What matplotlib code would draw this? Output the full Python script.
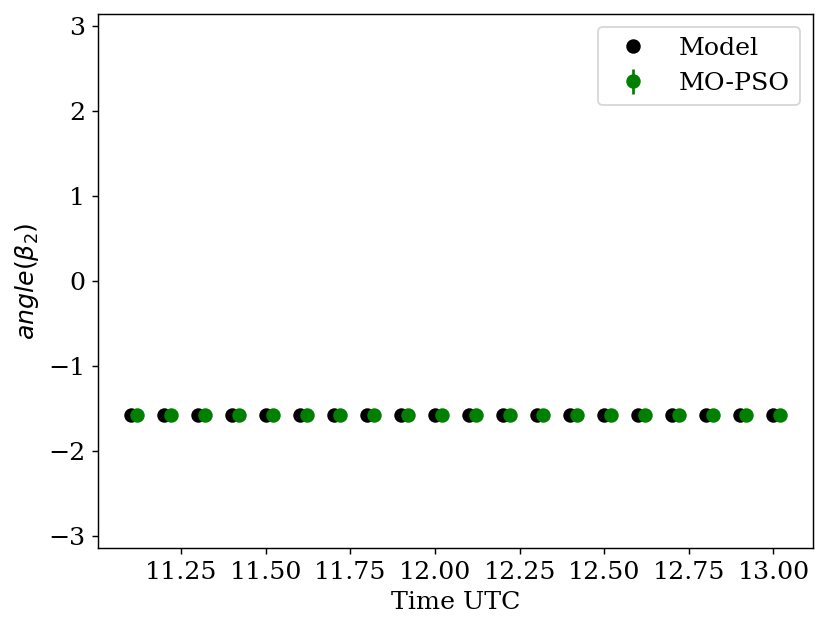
import matplotlib
matplotlib.use("Agg")
import matplotlib.pyplot as plt
import numpy as np

plt.rcParams['font.family'] = 'serif'
plt.rcParams['font.size'] = 14

# times (UTC hours) and beta_2 angle values
model_time = [11.1, 11.2, 11.3, 11.4, 11.5, 11.6, 11.7, 11.8, 11.9, 12.0,
              12.1, 12.2, 12.3, 12.4, 12.5, 12.6, 12.7, 12.8, 12.9, 13.0]
model_angle = [-1.5708] * 20
pso_time = [11.12, 11.22, 11.32, 11.42, 11.52, 11.62, 11.72, 11.82, 11.92, 12.02,
            12.12, 12.22, 12.32, 12.42, 12.52, 12.62, 12.72, 12.82, 12.92, 13.02]
pso_angle = [-1.5708] * 20
pso_err = [0.01] * 20

fig, ax = plt.subplots(figsize=(831 / 130, 633 / 130), dpi=130)
fig.subplots_adjust(left=0.118, right=0.978, top=0.978, bottom=0.134)

ax.plot(model_time, model_angle, 'o', color='black', markersize=7, label='Model')
ax.errorbar(pso_time, pso_angle, yerr=pso_err, fmt='o', color='green', markersize=7,
            label='MO-PSO')

ax.set_ylim(-np.pi, np.pi)
ax.set_xlabel('Time UTC')
ax.set_ylabel(r'$angle(\beta_2)$')
ax.legend(loc='upper right')

fig.savefig('out.png', dpi=130)
